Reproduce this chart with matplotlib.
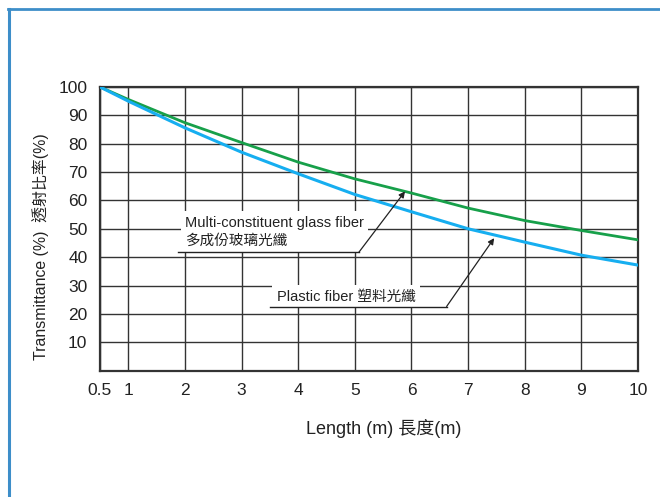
import matplotlib
matplotlib.use('Agg')
import matplotlib.pyplot as plt
from matplotlib.lines import Line2D

# Datos
longitud = [0.5, 1, 2, 3, 4, 5, 6, 7, 8, 9, 10]
vidrio = [100, 95.6, 87.4, 80.4, 73.5, 67.6, 62.6, 57.3, 52.9, 49.4, 46.1]
plastico = [100, 95.0, 85.6, 77.0, 69.4, 62.1, 56.0, 50.0, 45.3, 40.7, 37.2]

xticks = [0.5, 1, 2, 3, 4, 5, 6, 7, 8, 9, 10]
xtick_labels = ['0.5', '1', '2', '3', '4', '5', '6', '7', '8', '9', '10']
yticks = [10, 20, 30, 40, 50, 60, 70, 80, 90, 100]

plt.rcParams['font.family'] = ['Liberation Sans', 'Noto Sans CJK TC', 'DejaVu Sans']

fig = plt.figure(figsize=(6.6, 4.97), dpi=100)
ax = fig.add_axes([0.1515, 0.2543, 0.8152, 0.5707])

# marco azul
fig.add_artist(Line2D([0.013, 0.013], [0, 0.982], color='#3d8ec9', lw=2.2))
fig.add_artist(Line2D([0.012, 1.0], [0.982, 0.982], color='#3d8ec9', lw=2.0))

ax.plot(longitud, vidrio, color='#17a04a', lw=2, zorder=3)
ax.plot(longitud, plastico, color='#16aef0', lw=2.2, zorder=3)

ax.set_xlim(0.5, 10)
ax.set_ylim(0, 100)
ax.set_xticks(xticks)
ax.set_xticklabels(xtick_labels)
ax.set_yticks(yticks)
ax.tick_params(length=0, labelsize=12.5, pad=9, colors='#222222')
ax.grid(True, color='#333333', lw=1.0)
for s in ax.spines.values():
    s.set_color('#333333')
    s.set_linewidth(1.6)

ax.set_xlabel('Length (m) 長度(m)', fontsize=13, color='#222222')
ax.xaxis.set_label_coords(0.528, -0.17)
ax.set_ylabel('Transmittance (%)  透射比率(%)', fontsize=11.4, color='#222222')
ax.yaxis.set_label_coords(-0.095, 0.436)

# anotaciones
ax.text(2.0, 49.0, 'Multi-constituent glass fiber\n多成份玻璃光纖', fontsize=10.5,
        va='center', ha='left', linespacing=1.35, zorder=4, color='#222222',
        bbox=dict(facecolor='white', edgecolor='none', pad=3))
ax.plot([1.88, 5.07], [41.7, 41.7], color='#222222', lw=1, zorder=5)
ax.annotate('', xy=(5.886, 63.2), xytext=(5.07, 41.7),
            arrowprops=dict(arrowstyle='-|>', color='#222222', lw=0.9,
                            mutation_scale=9, shrinkA=0, shrinkB=0), zorder=5)

ax.text(3.62, 26.1, 'Plastic fiber 塑料光纖', fontsize=10.5, va='center', ha='left', zorder=4,
        color='#222222', bbox=dict(facecolor='white', edgecolor='none', pad=3))
ax.plot([3.5, 6.62], [22.6, 22.6], color='#222222', lw=1, zorder=5)
ax.annotate('', xy=(7.46, 46.7), xytext=(6.62, 22.6),
            arrowprops=dict(arrowstyle='-|>', color='#222222', lw=0.9,
                            mutation_scale=9, shrinkA=0, shrinkB=0), zorder=5)

fig.savefig('out.png', dpi=100)
